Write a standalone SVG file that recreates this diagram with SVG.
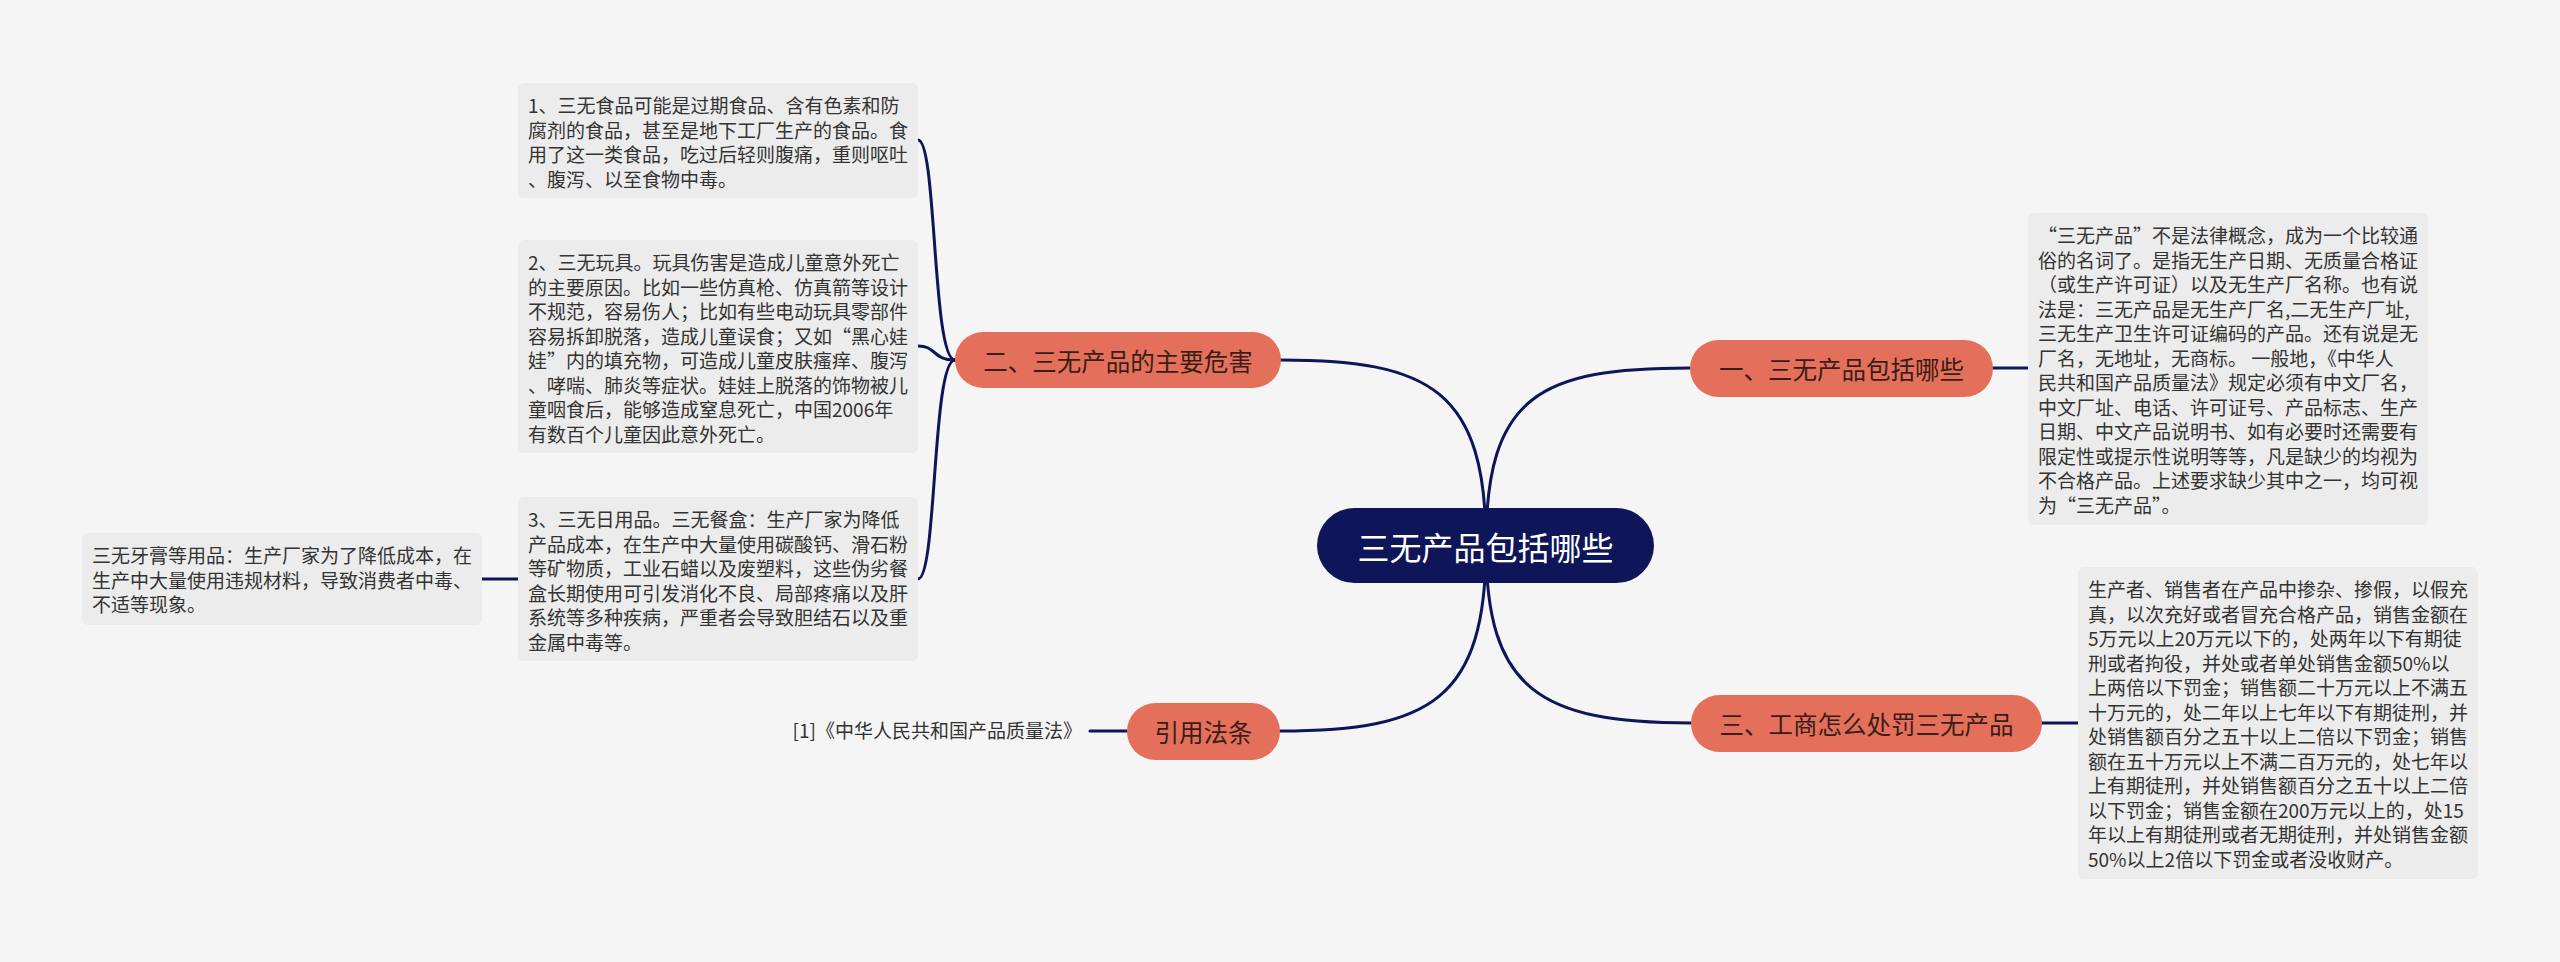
<svg xmlns="http://www.w3.org/2000/svg" width="2560" height="962" viewBox="0 0 2560 962">
<style>
.bg{fill:#f5f5f5}
.leaf{fill:#ececec}
.lt{font-family:"Noto Sans CJK SC","Noto Sans",sans-serif;font-size:19px;fill:#333333}
.br{fill:#e4705b}
.bt{font-family:"Noto Sans CJK SC","Noto Sans",sans-serif;font-size:24.5px;fill:#3a1d18;text-anchor:middle;dominant-baseline:central}
.ct{font-family:"Noto Sans CJK SC","Noto Sans",sans-serif;font-size:32px;fill:#ffffff;text-anchor:middle;dominant-baseline:central}
.cn{fill:none;stroke:#0e1558;stroke-width:3;stroke-linecap:round}
</style>
<rect class="bg" x="0" y="0" width="2560" height="962"/>
<g id="connectors">
<path class="cn" d="M1486,545 C1486,390 1430,360 1281,360"/>
<path class="cn" d="M1486,545 C1486,395 1540,368 1690,368"/>
<path class="cn" d="M1486,545 C1486,690 1540,723 1691,723"/>
<path class="cn" d="M1486,545 C1486,700 1430,731 1280,731"/>
<path class="cn" d="M955,360 C932,360 937,140 918,140"/>
<path class="cn" d="M955,360 C932,360 937,346 918,346"/>
<path class="cn" d="M955,360 C932,360 937,579 918,579"/>
<path class="cn" d="M518,579 L482,579"/>
<path class="cn" d="M1993,368 L2028,368"/>
<path class="cn" d="M2042,723 L2078,723"/>
<path class="cn" d="M1127,731 L1090,731"/>
</g>
<g id="center">
<rect x="1317" y="508" width="337" height="75" rx="37.5" fill="#0e1558"/>
<text class="ct" x="1485.5" y="546">三无产品包括哪些</text>
</g>
<g id="branch-2">
<rect class="br" x="955" y="332" width="326" height="56" rx="28"/>
<text class="bt" x="1118" y="360">二、三无产品的主要危害</text>
</g>
<g id="branch-1">
<rect class="br" x="1690" y="340" width="303" height="57" rx="28.5"/>
<text class="bt" x="1841.5" y="368.5">一、三无产品包括哪些</text>
</g>
<g id="branch-3">
<rect class="br" x="1691" y="695" width="351" height="57" rx="28.5"/>
<text class="bt" x="1866.5" y="723.5">三、工商怎么处罚三无产品</text>
</g>
<g id="branch-ref">
<rect class="br" x="1127" y="703" width="153" height="57" rx="28.5"/>
<text class="bt" x="1203.5" y="731.5">引用法条</text>
</g>
<g id="leaf-2-1">
<rect class="leaf" x="518" y="83" width="400" height="115" rx="6"/>
<text class="lt" y="113"><tspan x="528">1、三无食品可能是过期食品、含有色素和防</tspan><tspan x="528" dy="24.5">腐剂的食品，甚至是地下工厂生产的食品。食</tspan><tspan x="528" dy="24.5">用了这一类食品，吃过后轻则腹痛，重则呕吐</tspan><tspan x="528" dy="24.5">、腹泻、以至食物中毒。</tspan></text>
</g>
<g id="leaf-2-2">
<rect class="leaf" x="518" y="240" width="400" height="213" rx="6"/>
<text class="lt" y="270"><tspan x="528">2、三无玩具。玩具伤害是造成儿童意外死亡</tspan><tspan x="528" dy="24.5">的主要原因。比如一些仿真枪、仿真箭等设计</tspan><tspan x="528" dy="24.5">不规范，容易伤人；比如有些电动玩具零部件</tspan><tspan x="528" dy="24.5">容易拆卸脱落，造成儿童误食；又如“黑心娃</tspan><tspan x="528" dy="24.5">娃”内的填充物，可造成儿童皮肤瘙痒、腹泻</tspan><tspan x="528" dy="24.5">、哮喘、肺炎等症状。娃娃上脱落的饰物被儿</tspan><tspan x="528" dy="24.5">童咽食后，能够造成窒息死亡，中国2006年</tspan><tspan x="528" dy="24.5">有数百个儿童因此意外死亡。</tspan></text>
</g>
<g id="leaf-2-3">
<rect class="leaf" x="518" y="497" width="400" height="164" rx="6"/>
<text class="lt" y="527"><tspan x="528">3、三无日用品。三无餐盒：生产厂家为降低</tspan><tspan x="528" dy="24.5">产品成本，在生产中大量使用碳酸钙、滑石粉</tspan><tspan x="528" dy="24.5">等矿物质，工业石蜡以及废塑料，这些伪劣餐</tspan><tspan x="528" dy="24.5">盒长期使用可引发消化不良、局部疼痛以及肝</tspan><tspan x="528" dy="24.5">系统等多种疾病，严重者会导致胆结石以及重</tspan><tspan x="528" dy="24.5">金属中毒等。</tspan></text>
</g>
<g id="leaf-2-3-1">
<rect class="leaf" x="82" y="533" width="400" height="92" rx="6"/>
<text class="lt" y="563"><tspan x="92">三无牙膏等用品：生产厂家为了降低成本，在</tspan><tspan x="92" dy="24.5">生产中大量使用违规材料，导致消费者中毒、</tspan><tspan x="92" dy="24.5">不适等现象。</tspan></text>
</g>
<g id="leaf-1-1">
<rect class="leaf" x="2028" y="213" width="400" height="312" rx="6"/>
<text class="lt" y="243"><tspan x="2038">“三无产品”不是法律概念，成为一个比较通</tspan><tspan x="2038" dy="24.5">俗的名词了。是指无生产日期、无质量合格证</tspan><tspan x="2038" dy="24.5">（或生产许可证）以及无生产厂名称。也有说</tspan><tspan x="2038" dy="24.5">法是：三无产品是无生产厂名,二无生产厂址,</tspan><tspan x="2038" dy="24.5">三无生产卫生许可证编码的产品。还有说是无</tspan><tspan x="2038" dy="24.5">厂名，无地址，无商标。 一般地，《中华人</tspan><tspan x="2038" dy="24.5">民共和国产品质量法》规定必须有中文厂名，</tspan><tspan x="2038" dy="24.5">中文厂址、电话、许可证号、产品标志、生产</tspan><tspan x="2038" dy="24.5">日期、中文产品说明书、如有必要时还需要有</tspan><tspan x="2038" dy="24.5">限定性或提示性说明等等，凡是缺少的均视为</tspan><tspan x="2038" dy="24.5">不合格产品。上述要求缺少其中之一，均可视</tspan><tspan x="2038" dy="24.5">为“三无产品”。</tspan></text>
</g>
<g id="leaf-3-1">
<rect class="leaf" x="2078" y="567" width="400" height="312" rx="6"/>
<text class="lt" y="597"><tspan x="2088">生产者、销售者在产品中掺杂、掺假，以假充</tspan><tspan x="2088" dy="24.5">真，以次充好或者冒充合格产品，销售金额在</tspan><tspan x="2088" dy="24.5">5万元以上20万元以下的，处两年以下有期徒</tspan><tspan x="2088" dy="24.5">刑或者拘役，并处或者单处销售金额50%以</tspan><tspan x="2088" dy="24.5">上两倍以下罚金；销售额二十万元以上不满五</tspan><tspan x="2088" dy="24.5">十万元的，处二年以上七年以下有期徒刑，并</tspan><tspan x="2088" dy="24.5">处销售额百分之五十以上二倍以下罚金；销售</tspan><tspan x="2088" dy="24.5">额在五十万元以上不满二百万元的，处七年以</tspan><tspan x="2088" dy="24.5">上有期徒刑，并处销售额百分之五十以上二倍</tspan><tspan x="2088" dy="24.5">以下罚金；销售金额在200万元以上的，处15</tspan><tspan x="2088" dy="24.5">年以上有期徒刑或者无期徒刑，并处销售金额</tspan><tspan x="2088" dy="24.5">50%以上2倍以下罚金或者没收财产。</tspan></text>
</g>
<g id="leaf-ref-1">
<text class="lt" x="1082" y="738" text-anchor="end">[1]《中华人民共和国产品质量法》</text>
</g>
</svg>
